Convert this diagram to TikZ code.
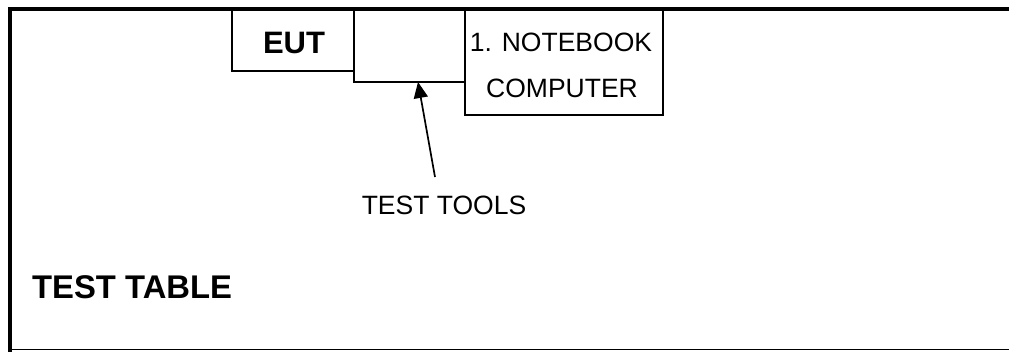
\documentclass[tikz,border=0pt]{standalone}
\usepackage{fontspec}
\setmainfont{Liberation Sans}
\usetikzlibrary{arrows.meta}
\begin{document}
\begin{tikzpicture}[x=1pt,y=-1pt,
  frame/.style={line width=4pt,line cap=rect},
  box/.style={draw,line width=1.6pt,fill=white},
  lbl/.style={inner sep=0pt,font=\fontsize{26.5}{30}\selectfont},
  blbl/.style={inner sep=0pt,font=\fontsize{31}{36}\selectfont\bfseries},
  arr/.style={line width=1.7pt,-{Triangle[length=16pt,width=14pt]}}]
  \useasboundingbox (0,0) rectangle (1009,351);
  % table outline: thick top and left edges, thin bottom edge
  \coordinate (tl) at (10,9);
  \coordinate (tr) at (1011,9);
  \coordinate (bl) at (10,349.5);
  \coordinate (br) at (1011,349.5);
  \draw[line width=1.2pt] (bl) -- (br);
  % equipment boxes hanging from the top edge
  \draw[box] (232,9) rectangle (354,71);
  \draw[box] (354,9) rectangle (465,82);
  \draw[box] (465,9) rectangle (663,115);
  \draw[frame] (tl) -- (tr);
  \draw[frame] (bl) -- (tl);
  % labels
  \node[blbl] (eut) at (294,43) {EUT};
  \node[lbl] (nb1) at (561,42) {1. NOTEBOOK};
  \node[lbl] (nb2) at (562,88) {COMPUTER};
  \node[lbl] (tools) at (444,205) {TEST TOOLS};
  \node[blbl,anchor=west,font=\fontsize{32.8}{38}\selectfont\bfseries] (table) at (32,287) {TEST TABLE};
  % pointer to the test tools
  \coordinate (tail) at (435,177);
  \coordinate (tip) at (418,82);
  \draw[arr] (tail) -- (tip);
\end{tikzpicture}
\end{document}
